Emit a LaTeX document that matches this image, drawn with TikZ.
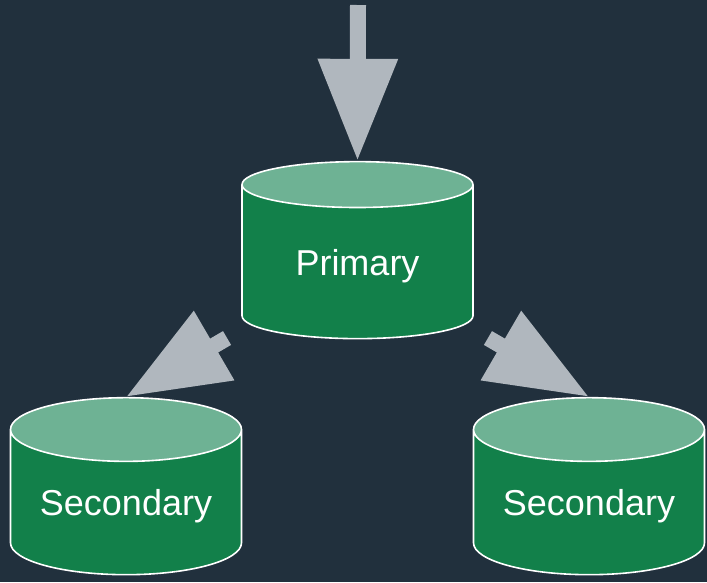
\documentclass[tikz,border=0pt]{standalone}
\usepackage{fontspec}
\setmainfont{Liberation Sans}
\usetikzlibrary{shapes.geometric,arrows.meta}
\definecolor{bgnavy}{RGB}{33,48,61}
\definecolor{dbgreen}{RGB}{18,128,74}
\definecolor{dbtop}{RGB}{110,178,148}
\definecolor{flowgray}{RGB}{176,183,190}
\begin{document}
\begin{tikzpicture}[
   x=1pt, y=-1pt,
   db/.style={draw=white, line width=1.6pt, cylinder, shape border rotate=90,
      aspect=0.37, minimum width=231pt, minimum height=177pt, inner sep=0pt,
      cylinder uses custom fill, cylinder body fill=dbgreen, cylinder end fill=dbtop,
      text=white, text height=34pt, text depth=8pt,
      font=\fontsize{36}{40}\selectfont},
   flow/.style={draw=flowgray, line width=16pt,
      -{Triangle[length=102pt, width=76pt]}}]

\useasboundingbox (0,0) rectangle (707,582);
\fill[bgnavy] (0,0) rectangle (707,582);

\node[db] (primary) at (357.5,262) {Primary};
\node[db] (secleft) at (126,502.5) {Secondary};
\node[db] (secright) at (589,502.5) {Secondary};

\coordinate (client) at (358,5);

\draw[flow] (client) -- (primary.north);
\draw[flow, shorten <=151pt] (primary.center) -- (secleft.north);
\draw[flow, shorten <=151pt] (primary.center) -- (secright.north);

\end{tikzpicture}
\end{document}
